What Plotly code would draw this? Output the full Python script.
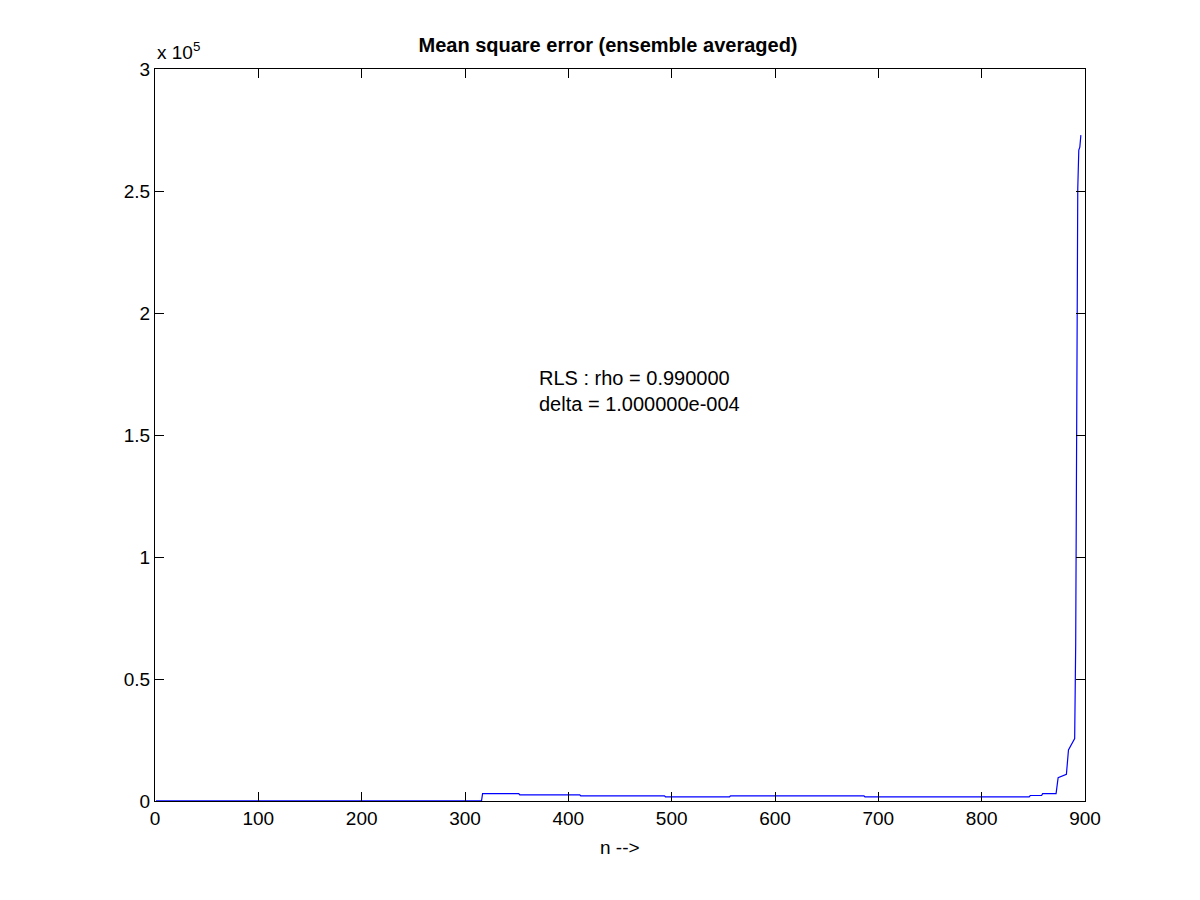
import plotly.graph_objects as go

# breakpoints of the ensemble-averaged MSE curve (n, value)
n_vals = [1, 316, 317, 352, 353, 411, 412, 493, 494, 556, 557, 686, 687,
          846, 847, 858, 859, 872, 874, 882, 884, 890, 891, 892, 893, 894, 895, 896]
mse_vals = [100, 100, 3000, 3000, 2550, 2550, 2130, 2130, 1720, 1720, 2130, 2130, 1720,
            1720, 2250, 2250, 3000, 3000, 9600, 10900, 20900, 25600, 64600, 167500,
            251100, 266800, 268000, 272900]

x_ticks = [0, 100, 200, 300, 400, 500, 600, 700, 800, 900]
y_ticks = [0, 50000, 100000, 150000, 200000, 250000, 300000]
y_ticktext = ["0", "0.5", "1", "1.5", "2", "2.5", "3"]

font_family = "Liberation Sans, Arial, Helvetica, sans-serif"

fig = go.Figure()
fig.add_trace(go.Scatter(x=n_vals, y=mse_vals, mode="lines",
                         line=dict(color="#0000ff", width=1.2), showlegend=False))

axis_common = dict(showline=True, linecolor="black", linewidth=1, mirror="ticks",
                   ticks="inside", ticklen=9, tickcolor="black", tickwidth=1,
                   showgrid=False, zeroline=False,
                   tickfont=dict(family=font_family, size=19, color="black"))

fig.update_layout(
    width=1200, height=900,
    paper_bgcolor="white", plot_bgcolor="white",
    margin=dict(l=147, r=123, t=61, b=107),
    title=dict(text="<b>Mean square error (ensemble averaged)</b>", x=0.5, xanchor="center",
               y=1 - 37 / 900, yanchor="middle",
               font=dict(family=font_family, size=20, color="black")),
    xaxis=dict(range=[0, 900], tickvals=x_ticks, **axis_common),
    yaxis=dict(range=[0, 300000], tickvals=y_ticks, ticktext=y_ticktext, **axis_common),
    annotations=[
        dict(text="x 10<sup>5</sup>", xref="paper", yref="paper", x=0, y=1,
             xanchor="left", yanchor="bottom", yshift=4, showarrow=False,
             font=dict(family=font_family, size=19, color="black")),
        dict(text="n -->", xref="paper", yref="paper", x=0.5, y=0,
             xanchor="center", yanchor="middle", yshift=-46, showarrow=False,
             font=dict(family=font_family, size=19, color="black")),
        dict(text="RLS : rho = 0.990000<br>delta = 1.000000e-004", xref="x", yref="y",
             x=370, y=172900, xanchor="left", yanchor="top", align="left", showarrow=False,
             yshift=14,
             font=dict(family=font_family, size=20, color="black")),
    ],
)

fig.write_html("out.html")
